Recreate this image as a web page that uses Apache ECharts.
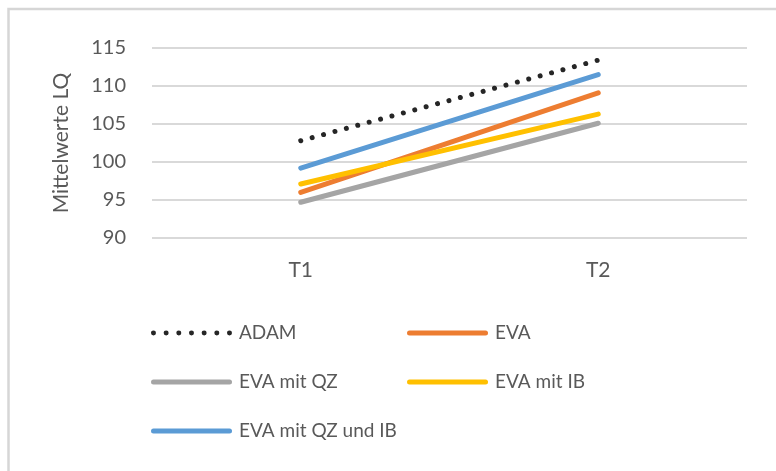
<!DOCTYPE html>
<html>
<head>
<meta charset="utf-8">
<style>
  html, body { margin: 0; padding: 0; background: #fff; }
  #chart { width: 776px; height: 471px; }
</style>
<script src="https://cdn.jsdelivr.net/npm/echarts@6/dist/echarts.min.js"></script>
</head>
<body>
<div id="chart"></div>
<script>
// Messzeitpunkte
const categories = ['T1', 'T2'];

// Mittelwerte LQ je Gruppe
const adam = [102.8, 113.4];
const eva = [96.0, 109.1];
const evaQZ = [94.7, 105.1];
const evaIB = [97.1, 106.3];
const evaQZIB = [99.2, 111.5];

// y-Achse
const yMin = 90;
const yMax = 115;
const yStep = 5;

const FONT = 'Lato, "Open Sans", sans-serif';
const TEXT = '#595959';

// Legendensymbole: durchgezogene Linie mit runden Enden bzw. Punktreihe
const barIcon = 'path://M2.5,0 L78.5,0 A2.5,2.5 0 0,1 78.5,5 L2.5,5 A2.5,2.5 0 0,1 2.5,0 Z';
let dotPath = '';
for (let i = 0; i < 7; i++) {
  const cx = 2.5 + i * 12.7;
  dotPath += 'M' + (cx - 2.5) + ',2.5 A2.5,2.5 0 1,0 ' + (cx + 2.5) + ',2.5 A2.5,2.5 0 1,0 ' + (cx - 2.5) + ',2.5 Z ';
}
const dotIcon = 'path://' + dotPath.trim();

function solid(name, data, color) {
  return {
    name: name,
    type: 'line',
    data: data,
    symbol: 'none',
    lineStyle: { color: color, width: 5, cap: 'round' },
    itemStyle: { color: color }
  };
}

const legendText = { color: TEXT, fontFamily: FONT, fontSize: 19, lineHeight: 20, padding: [0, 0, 0, 2] };

const chart = echarts.init(document.getElementById('chart'), null, { renderer: 'canvas' });

chart.setOption({
  animation: false,
  backgroundColor: '#ffffff',
  graphic: [{
    type: 'rect',
    shape: { x: 8.5, y: 9, width: 900, height: 600 },
    style: { fill: 'none', stroke: '#d6d6d6', lineWidth: 2.5 },
    silent: true
  }],
  grid: {
    left: 152, right: 29, top: 48, bottom: 233,
    containLabel: false,
    outerBoundsMode: 'none'
  },
  xAxis: {
    type: 'category',
    data: categories,
    boundaryGap: true,
    axisLine: { show: false },
    axisTick: { show: false },
    axisLabel: { color: TEXT, fontFamily: FONT, fontSize: 21, margin: 22 }
  },
  yAxis: {
    type: 'value',
    min: yMin, max: yMax, interval: yStep,
    name: 'Mittelwerte LQ',
    nameLocation: 'middle',
    nameGap: 80,
    nameTextStyle: { color: TEXT, fontFamily: FONT, fontSize: 21 },
    axisLine: { show: false },
    axisTick: { show: false },
    axisLabel: { color: TEXT, fontFamily: FONT, fontSize: 20, margin: 26 },
    splitLine: { lineStyle: { color: '#d9d9d9', width: 2 } }
  },
  legend: [
    {
      orient: 'vertical', left: 151, top: 323, padding: 0,
      itemWidth: 81, itemHeight: 5, itemGap: 29,
      textStyle: legendText,
      data: [
        { name: 'ADAM', icon: dotIcon },
        { name: 'EVA mit QZ', icon: barIcon },
        { name: 'EVA mit QZ und IB', icon: barIcon }
      ]
    },
    {
      orient: 'vertical', left: 407, top: 323, padding: 0,
      itemWidth: 81, itemHeight: 5, itemGap: 29,
      textStyle: legendText,
      data: [
        { name: 'EVA', icon: barIcon },
        { name: 'EVA mit IB', icon: barIcon }
      ]
    }
  ],
  series: [
    {
      name: 'ADAM',
      type: 'line',
      data: adam,
      symbol: 'none',
      lineStyle: { color: '#262626', width: 5, cap: 'round', type: [0.01, 11.8] },
      itemStyle: { color: '#262626' }
    },
    solid('EVA', eva, '#ed7d31'),
    solid('EVA mit QZ', evaQZ, '#a5a5a5'),
    solid('EVA mit IB', evaIB, '#ffc000'),
    solid('EVA mit QZ und IB', evaQZIB, '#5b9bd5')
  ]
});
</script>
</body>
</html>
